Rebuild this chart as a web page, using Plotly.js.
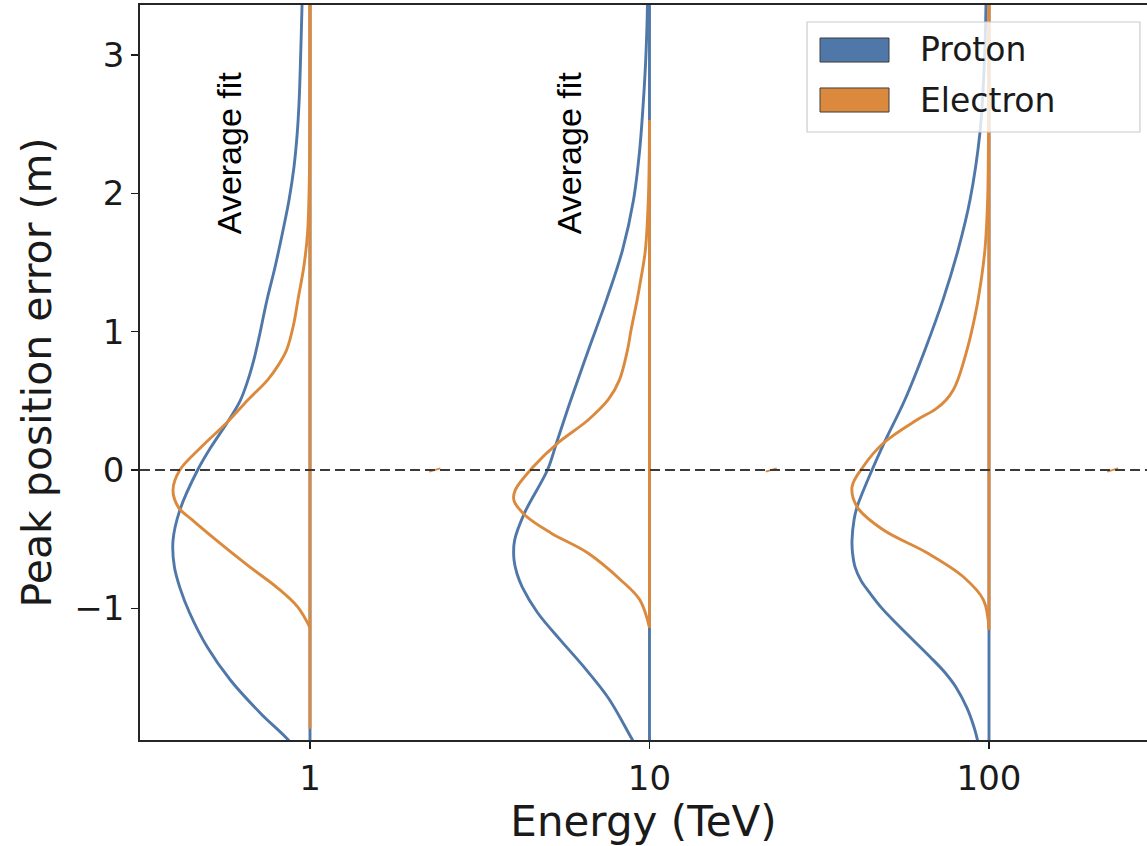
<!DOCTYPE html>
<html>
<head>
<meta charset="utf-8">
<script src="https://cdn.plot.ly/plotly-3.0.1.min.js"></script>
<style>html,body{margin:0;padding:0;background:#fff;}#chart{width:1147px;height:846px;}</style>
</head>
<body>
<div id="chart"></div>
<script>
// ---- Data ----
const energies = [1, 10, 100];               // TeV, violin positions
const speciesNames = ["Proton", "Electron"];
const tickVals = [1, 10, 100];
const tickText = ["1", "10", "100"];
const yTickVals = [-1, 0, 1, 2, 3];
const yTickText = ["\u22121", "0", "1", "2", "3"];

// Proton density outlines (peak position error in m, relative density)
const protonY1 = [-2.1, -1.94, -1.76, -1.52, -1.28, -1.03, -0.85, -0.70, -0.51, -0.29, 0, 0.17, 0.34, 0.5, 0.65, 0.80, 0.94, 1.229, 1.468, 1.714, 1.952, 2.19, 2.437, 2.675, 3.0, 3.362, 3.5];
const protonD1 = [0.03, 0.17, 0.36, 0.58, 0.75, 0.88, 0.95, 0.99, 1.00, 0.95, 0.82, 0.72, 0.606, 0.51, 0.453, 0.409, 0.376, 0.314, 0.255, 0.201, 0.153, 0.117, 0.093, 0.079, 0.068, 0.058, 0.055];
const protonY10 = [-2.1, -1.952, -1.65, -1.42, -1.23, -1.03, -0.85, -0.75, -0.65, -0.51, -0.31, 0, 0.195, 0.51, 0.87, 1.23, 1.59, 1.95, 2.3, 2.675, 3.0, 3.362, 3.5];
const protonD10 = [0.036, 0.124, 0.299, 0.482, 0.650, 0.818, 0.927, 0.967, 0.989, 0.985, 0.912, 0.745, 0.679, 0.573, 0.445, 0.314, 0.197, 0.117, 0.073, 0.044, 0.026, 0.015, 0.015];
const protonY100 = [-2.1, -1.952, -1.86, -1.72, -1.57, -1.46, -1.35, -1.135, -1.0, -0.89, -0.80, -0.70, -0.60, -0.51, -0.36, -0.27, 0, 0.195, 0.51, 0.87, 1.23, 1.59, 1.95, 2.44, 2.9, 3.362, 3.5];
const protonD100 = [0.051, 0.084, 0.109, 0.161, 0.241, 0.325, 0.431, 0.650, 0.781, 0.869, 0.934, 0.978, 0.996, 1.0, 0.985, 0.964, 0.854, 0.766, 0.613, 0.467, 0.336, 0.226, 0.139, 0.066, 0.036, 0.022, 0.022];

// Electron density outlines
const electronY1 = [-1.14, -0.99, -0.85, -0.70, -0.51, -0.36, -0.27, -0.145, 0, 0.17, 0.34, 0.51, 0.65, 0.76, 0.87, 1.05, 1.23, 1.47, 1.71, 2.2, 3.5];
const electronD1 = [0, 0.09, 0.24, 0.44, 0.68, 0.86, 0.96, 1.0, 0.95, 0.79, 0.61, 0.45, 0.31, 0.23, 0.17, 0.12, 0.088, 0.045, 0.018, 0.003, 0];
const electronY10 = [-1.14, -0.94, -0.795, -0.60, -0.455, -0.325, -0.217, -0.145, 0.022, 0.195, 0.36, 0.51, 0.65, 0.87, 1.01, 1.23, 1.37, 1.59, 2.0, 2.53];
const electronD10 = [0, 0.07, 0.21, 0.45, 0.72, 0.91, 0.99, 0.98, 0.85, 0.67, 0.45, 0.30, 0.22, 0.16, 0.135, 0.09, 0.065, 0.03, 0.007, 0];
const electronY100 = [-1.157, -0.94, -0.77, -0.60, -0.434, -0.27, -0.123, 0.022, 0.195, 0.36, 0.44, 0.51, 0.58, 0.65, 0.87, 1.01, 1.23, 1.59, 1.95, 2.6, 3.5];
const electronD100 = [0, 0.04, 0.19, 0.45, 0.77, 0.96, 1.0, 0.92, 0.77, 0.53, 0.39, 0.31, 0.26, 0.228, 0.16, 0.125, 0.08, 0.03, 0.01, 0.003, 0];

// Extent of the centre line of each half violin (min, max of the sample)
const protonSpan = [[-2.1, 3.5], [-2.1, 3.5], [-2.1, 3.5]];
const electronSpan = [[-1.87, 3.5], [-1.14, 2.53], [-1.157, 3.5]];

// Tiny stray electron marks between the main positions
const strayEnergies = [2.42, 23.7, 240];
const strayY = [-0.012, 0.012];
const strayD = [0.08, 0];

const annotationText = "Average fit";
const annotationEnergies = [0.577, 5.79];
const annotationY = 2.29;

// ---- Styles ----
const COLORS = {Proton: "#4f78a9", Electron: "#db8a3d"};
const HALF_WIDTH_DECADES = 0.4035;   // max violin half-width in log10 units
const FONT = "DejaVu Sans, Liberation Sans, sans-serif";
const TEXT = "#1a1a1a";

const outlines = {
  Proton:   [[protonY1, protonD1], [protonY10, protonD10], [protonY100, protonD100]],
  Electron: [[electronY1, electronD1], [electronY10, electronD10], [electronY100, electronD100]]
};
const spans = {Proton: protonSpan, Electron: electronSpan};

function halfViolin(E, ys, ds, span, color, width) {
  const x = ys.map((y, i) => E * Math.pow(10, -HALF_WIDTH_DECADES * ds[i]));
  const y = ys.slice();
  if (span) { x.push(null, E, E); y.push(null, span[0], span[1]); }
  return {
    type: "scatter", mode: "lines", x: x, y: y,
    line: {color: color, width: width, shape: "spline", smoothing: 1},
    connectgaps: false, hoverinfo: "skip", showlegend: false
  };
}

const traces = [];
energies.forEach((E, k) => {
  speciesNames.forEach(s => {
    const [ys, ds] = outlines[s][k];
    traces.push(halfViolin(E, ys, ds, spans[s][k], COLORS[s], 2.9));
  });
});
strayEnergies.forEach(E => traces.push(halfViolin(E, strayY, strayD, null, COLORS.Electron, 1.8)));

const legendShapes = [
  {type: "rect", xref: "paper", yref: "paper", x0: 0.6624, x1: 0.9930, y0: 0.8272, y1: 0.9769,
   fillcolor: "rgba(255,255,255,0.8)", line: {color: "#cccccc", width: 1.2}, layer: "above"},
  {type: "rect", xref: "paper", yref: "paper", x0: 0.6753, x1: 0.7438, y0: 0.9224, y1: 0.9551,
   fillcolor: COLORS.Proton, line: {color: "#3d3d3d", width: 1}, layer: "above"},
  {type: "rect", xref: "paper", yref: "paper", x0: 0.6753, x1: 0.7438, y0: 0.8544, y1: 0.8871,
   fillcolor: COLORS.Electron, line: {color: "#3d3d3d", width: 1}, layer: "above"}
];

const annotations = [
  {xref: "paper", yref: "paper", x: 0.7726, y: 0.9388, xanchor: "left", yanchor: "middle",
   text: speciesNames[0], showarrow: false, font: {family: FONT, size: 33, color: TEXT}},
  {xref: "paper", yref: "paper", x: 0.7726, y: 0.8707, xanchor: "left", yanchor: "middle",
   text: speciesNames[1], showarrow: false, font: {family: FONT, size: 33, color: TEXT}}
];
annotationEnergies.forEach(E => annotations.push({
  xref: "x", yref: "y", x: Math.log10(E), y: annotationY, text: annotationText, textangle: -90,
  showarrow: false, xanchor: "center", yanchor: "middle",
  font: {family: "Liberation Sans, Arial, sans-serif", size: 34, color: "#000"}
}));

const layout = {
  width: 1147, height: 846,
  margin: {l: 140, r: 0, t: 5, b: 106, pad: 0},
  paper_bgcolor: "#fff", plot_bgcolor: "#fff",
  showlegend: false,
  font: {family: FONT, color: TEXT},
  xaxis: {
    type: "log", range: [-0.5007, 2.4654],
    tickvals: tickVals, ticktext: tickText,
    ticks: "outside", ticklen: 7, tickwidth: 1.5, tickcolor: TEXT,
    showgrid: false, zeroline: false,
    showline: true, linecolor: "#262626", linewidth: 1.8, mirror: true,
    tickfont: {family: FONT, size: 34, color: TEXT},
    title: {text: "Energy (TeV)", font: {family: FONT, size: 42, color: TEXT}, standoff: 8},
    automargin: false
  },
  yaxis: {
    range: [-1.952, 3.362],
    tickvals: yTickVals, ticktext: yTickText,
    ticks: "outside", ticklen: 7, tickwidth: 1.5, tickcolor: TEXT,
    showgrid: false, zeroline: false,
    showline: true, linecolor: "#262626", linewidth: 1.8, mirror: false,
    tickfont: {family: FONT, size: 34, color: TEXT},
    title: {text: "Peak position error (m)", font: {family: FONT, size: 41, color: TEXT}, standoff: 10},
    automargin: false
  },
  shapes: [
    {type: "line", xref: "paper", yref: "y", x0: 0, x1: 1, y0: 0, y1: 0,
     line: {color: "#3a3a3a", width: 2, dash: "10px,5px"}, layer: "above"}
  ].concat(legendShapes),
  annotations: annotations
};

Plotly.newPlot("chart", traces, layout, {staticPlot: true, displayModeBar: false});
</script>
</body>
</html>
